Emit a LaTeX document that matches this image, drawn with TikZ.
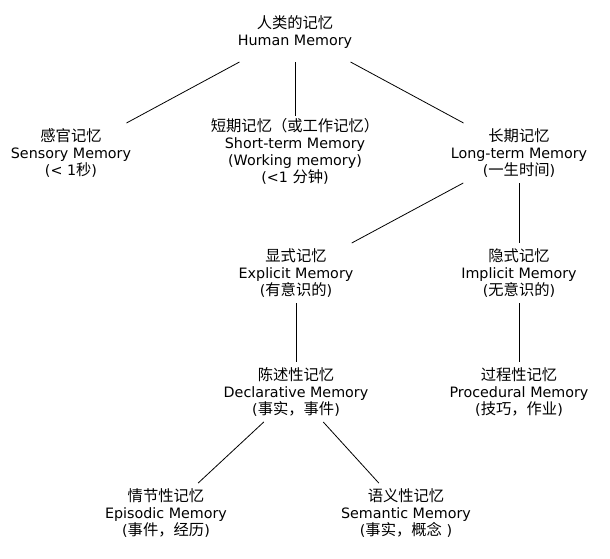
\documentclass[tikz,border=0pt]{standalone}
\usepackage{fontspec}
\setmainfont{DejaVu Sans}
\newfontfamily\cjk[Scale=1.07]{Noto Sans CJK SC}

\begin{document}
\begin{tikzpicture}[
    x=1pt, y=-1pt, % pixel-like units, y downwards
    mem/.style={align=center, inner xsep=2pt, inner ysep=3pt, outer sep=0pt,
        minimum width=120pt, minimum height=60pt,
        font=\fontsize{14.3}{17}\selectfont}, % invisible text box
    link/.style={draw, line width=0.8pt} % plain connector
]
\useasboundingbox (0,0) rectangle (610,558);

% Top level
\node[mem] (human) at (295,32) {{\cjk 人类的记忆}\\Human Memory};

% Second level
\node[mem] (sensory) at (71,153) {{\cjk 感官记忆}\\Sensory Memory\\(< 1{\cjk 秒})};
\node[mem] (short) at (295,151.5) {{\cjk 短期记忆（或工作记忆）}\\Short-term Memory\\(Working memory)\\(<1 {\cjk 分钟})};
\node[mem] (long) at (519,153) {{\cjk 长期记忆}\\Long-term Memory\\({\cjk 一生时间})};

% Long-term branch
\node[mem] (explicit) at (296,273) {{\cjk 显式记忆}\\Explicit Memory\\({\cjk 有意识的})};
\node[mem] (implicit) at (519,273) {{\cjk 隐式记忆}\\Implicit Memory\\({\cjk 无意识的})};
\node[mem] (declarative) at (296,392) {{\cjk 陈述性记忆}\\Declarative Memory\\({\cjk 事实，事件})};
\node[mem] (procedural) at (519,392) {{\cjk 过程性记忆}\\Procedural Memory\\({\cjk 技巧，作业})};

% Bottom level
\node[mem] (episodic) at (166,513) {{\cjk 情节性记忆}\\Episodic Memory\\({\cjk 事件，经历})};
\node[mem] (semantic) at (406,513) {{\cjk 语义性记忆}\\Semantic Memory\\({\cjk 事实，概念} )};

% Connectors (centre to centre, clipped at the boxes)
\draw[link] (human) -- (sensory);
\draw[link] (human) -- (short);
\draw[link] (human) -- (long);
\draw[link] (long) -- (explicit);
\draw[link] (long) -- (implicit);
\draw[link] (explicit) -- (declarative);
\draw[link] (implicit) -- (procedural);
\draw[link] (declarative) -- (episodic);
\draw[link] (declarative) -- (semantic);

\end{tikzpicture}
\end{document}
